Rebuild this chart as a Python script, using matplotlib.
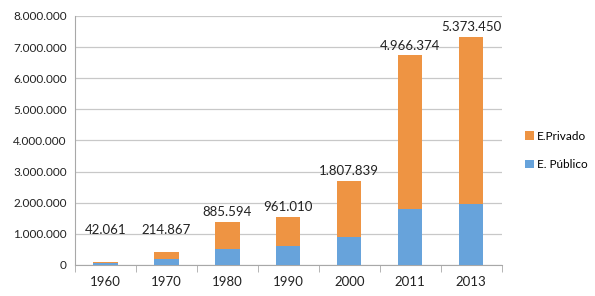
import numpy as np
import matplotlib
matplotlib.use('Agg')
import matplotlib.pyplot as plt
from matplotlib.ticker import FuncFormatter, FixedLocator

plt.rcParams['font.family'] = ['Lato', 'DejaVu Sans']

# data
years = ['1960', '1970', '1980', '1990', '2000', '2011', '2013']
publico = [58000, 203000, 505000, 592000, 902000, 1785000, 1960000]
privado = [42061, 214867, 885594, 961010, 1807839, 4966374, 5373450]
labels = ['42.061', '214.867', '885.594', '961.010', '1.807.839', '4.966.374', '5.373.450']

blue = '#67A3DB'
orange = '#EE9443'

fig = plt.figure(figsize=(5.95, 2.96), dpi=100)
ax = fig.add_axes([0.126, 0.105, 0.717, 0.841])

x = np.arange(len(years))
ax.bar(x, publico, width=0.4, color=blue, label='E. Público', zorder=3)
ax.bar(x, privado, width=0.4, bottom=publico, color=orange, label='E.Privado', zorder=3)

# data labels (private values) above each bar
for xi, p, q, lab in zip(x, publico, privado, labels):
    top = max(p + q, 0.82e6)
    ax.text(xi, top + 0.3e6, lab, ha='center', va='center', fontsize=9.5, color='#222222')

ax.set_xlim(-0.5, len(years) - 0.5)
ax.set_ylim(0, 8e6)
ax.set_yticks(np.arange(0, 8.01e6, 1e6))
ax.yaxis.set_major_formatter(FuncFormatter(lambda v, _: f'{int(v):,}'.replace(',', '.')))
ax.grid(axis='y', color='#C8C8C8', linewidth=0.9, zorder=0)
ax.tick_params(axis='y', length=0, labelsize=8.5, pad=6, colors='#222222')

ax.set_xticks(x)
ax.set_xticklabels(years)
ax.xaxis.set_minor_locator(FixedLocator(np.arange(-0.5, len(years), 1)))
ax.tick_params(axis='x', which='major', length=0, labelsize=9.5, pad=8, colors='#222222')
ax.tick_params(axis='x', which='minor', length=5, color='#A8A8A8')

for side in ['top', 'right']:
    ax.spines[side].set_visible(False)
ax.spines['left'].set_color('#A8A8A8')
ax.spines['bottom'].set_color('#A8A8A8')

handles, labs = ax.get_legend_handles_labels()
fig.legend(handles[::-1], labs[::-1], loc='center left', bbox_to_anchor=(0.865, 0.492),
           frameon=False, fontsize=8.5, handlelength=0.7, handleheight=0.7,
           handletextpad=0.3, labelspacing=1.5)

fig.savefig('out.png', dpi=100)
